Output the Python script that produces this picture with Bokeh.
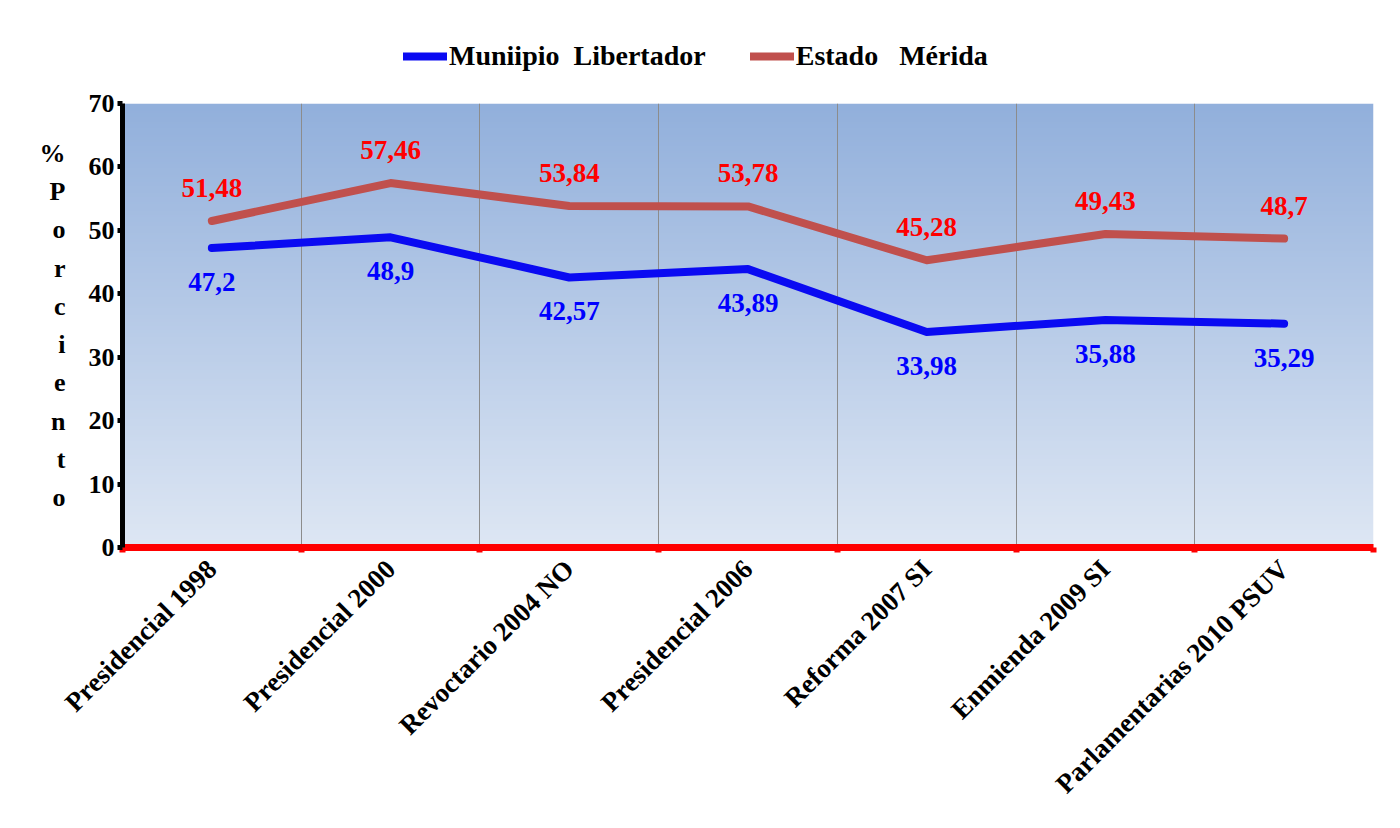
import math
import numpy as np
from bokeh.plotting import figure
from bokeh.layouts import column
from bokeh.models import FixedTicker, Legend, LegendItem
from bokeh.embed import file_html
from bokeh.resources import INLINE
from bokeh.core.properties import value

# ---- data ----
categories = ["Presidencial 1998", "Presidencial 2000", "Revoctario 2004 NO",
              "Presidencial 2006", "Reforma 2007 SI", "Enmienda 2009 SI",
              "Parlamentarias 2010 PSUV"]
municipio = [47.2, 48.9, 42.57, 43.89, 33.98, 35.88, 35.29]
estado = [51.48, 57.46, 53.84, 53.78, 45.28, 49.43, 48.7]
y_ticks = [0, 10, 20, 30, 40, 50, 60, 70]
series_names = ["Muniipio  Libertador", "Estado   Mérida"]
y_axis_title = "%Porciento"

n = len(categories)
x_centers = [i + 0.5 for i in range(n)]
boundaries = list(range(n + 1))
y_max = y_ticks[-1]

FONT = "Liberation Serif"
BLUE = "#0a0af2"
ESTADO = "#c0504d"
W = 1392
LEG_H = 80

p = figure(width=W, height=820 - LEG_H, x_range=(0, n), y_range=(0, y_max),
           output_backend="svg", toolbar_location=None,
           min_border_left=122, min_border_right=19,
           min_border_top=23, min_border_bottom=273)
p.outline_line_color = None
p.background_fill_color = None

# gradient background of plot area
rows = 200
top = np.array([146, 176, 220], dtype=float)
bottom = np.array([222, 231, 244], dtype=float)
t = np.linspace(0, 1, rows)[:, None]
cols = bottom * (1 - t) + top * t
img = np.empty((rows, 1), dtype=np.uint32)
view = img.view(dtype=np.uint8).reshape((rows, 1, 4))
view[:, 0, 0] = cols[:, 0].astype(np.uint8)
view[:, 0, 1] = cols[:, 1].astype(np.uint8)
view[:, 0, 2] = cols[:, 2].astype(np.uint8)
view[:, 0, 3] = 255
p.image_rgba(image=[img], x=0, y=0, dw=n, dh=y_max, level="image")

# axes / grid
xt = FixedTicker(ticks=x_centers, minor_ticks=boundaries)
p.xaxis.ticker = xt
p.xgrid.ticker = xt
p.xaxis.major_label_overrides = {x: c for x, c in zip(x_centers, categories)}
p.xgrid.grid_line_color = None
p.xgrid.minor_grid_line_color = "#8c8c8c"
p.xgrid.minor_grid_line_width = 1
p.ygrid.grid_line_color = None

p.yaxis.ticker = FixedTicker(ticks=y_ticks)

for ax in (p.xaxis[0], p.yaxis[0]):
    ax.major_label_text_font = FONT
    ax.major_label_text_font_style = "bold"
    ax.major_label_text_color = "black"

xa = p.xaxis[0]
xa.axis_line_color = "#ff0000"
xa.axis_line_width = 7
xa.major_tick_out = 0
xa.major_tick_in = 0
xa.minor_tick_out = 5
xa.minor_tick_in = 0
xa.minor_tick_line_color = "#ff0000"
xa.minor_tick_line_width = 6
xa.major_label_orientation = math.pi / 4
xa.major_label_text_font_size = "27px"
xa.major_label_standoff = 12

ya = p.yaxis[0]
ya.axis_line_color = "black"
ya.axis_line_width = 5
ya.major_tick_out = 5
ya.major_tick_in = 0
ya.major_tick_line_width = 5
ya.major_tick_line_color = "black"
ya.minor_tick_out = 0
ya.minor_tick_in = 0
ya.major_label_text_font_size = "26px"
ya.major_label_standoff = 3
ya.axis_label = "\n".join(y_axis_title)
ya.axis_label_orientation = "horizontal"
ya.axis_label_text_font = FONT
ya.axis_label_text_font_style = "bold"
ya.axis_label_text_font_size = "26px"
ya.axis_label_text_color = "black"
ya.axis_label_text_line_height = 1.32
ya.axis_label_text_align = "center"
ya.axis_label_standoff = 20

# lines
p.line(x_centers, municipio, line_width=8, line_color=BLUE, line_cap="round", line_join="round")
p.line(x_centers, estado, line_width=8, line_color=ESTADO, line_cap="round", line_join="round")

# data labels
p.text(x=x_centers, y=estado, text=[str(v).replace(".", ",") for v in estado],
       text_font=value(FONT), text_font_style="bold", text_font_size="27px",
       text_color="#ff0000", text_align="center", text_baseline="middle", y_offset=-33)
p.text(x=x_centers, y=municipio, text=[str(v).replace(".", ",") for v in municipio],
       text_font=value(FONT), text_font_style="bold", text_font_size="27px",
       text_color="#0000ff", text_align="center", text_baseline="middle", y_offset=34)

# ---- legend strip above the chart ----
lg = figure(width=W, height=LEG_H, x_range=(0, 1), y_range=(0, 1),
            output_backend="svg", toolbar_location=None,
            min_border=0, min_border_left=0, min_border_right=0,
            min_border_top=0, min_border_bottom=0)
lg.axis.visible = False
lg.grid.visible = False
lg.outline_line_color = None
nan = float("nan")
d1 = lg.line([nan], [nan], line_width=8, line_color=BLUE, line_cap="round")
d2 = lg.line([nan], [nan], line_width=8, line_color=ESTADO, line_cap="round")
legend = Legend(items=[LegendItem(label=series_names[0], renderers=[d1]),
                       LegendItem(label=series_names[1], renderers=[d2])],
                orientation="horizontal", location=(281, 8),
                label_text_font=FONT, label_text_font_style="bold",
                label_text_font_size="28px", label_text_color="black",
                label_standoff=2,
                glyph_width=44, glyph_height=30, label_height=30,
                spacing=44, padding=0, margin=0,
                border_line_color=None, background_fill_color=None)
lg.add_layout(legend, "center")

layout = column(lg, p, spacing=0)
open("out.html", "w").write(file_html(layout, INLINE))
